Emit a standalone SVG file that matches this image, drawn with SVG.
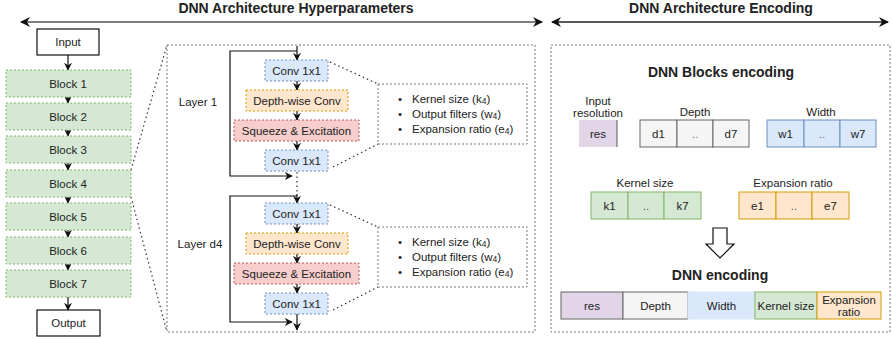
<svg xmlns="http://www.w3.org/2000/svg" width="892" height="339" viewBox="0 0 892 339">
<defs>
<marker id="ah" viewBox="0 0 10 10" refX="9" refY="5" markerWidth="8" markerHeight="8" markerUnits="userSpaceOnUse" orient="auto-start-reverse">
<path d="M0,0 L10,5 L0,10 L3,5 z" fill="#111"/>
</marker>
<marker id="ahb" viewBox="0 0 10 10" refX="9" refY="5" markerWidth="10" markerHeight="10" markerUnits="userSpaceOnUse" orient="auto-start-reverse">
<path d="M0,0 L10,5 L0,10 L3,5 z" fill="#111"/>
</marker>
</defs>
<style>
text{font-family:"Liberation Sans",Arial,sans-serif;font-size:11.5px;fill:#222;text-anchor:middle;dominant-baseline:central}
.title{font-weight:bold;font-size:14px}
.lt{text-anchor:start}
.blk{fill:#d5e8d4;stroke:#82b366;stroke-dasharray:2,2;stroke-width:1}
.conv{fill:#dae8fc;stroke:#6c8ebf;stroke-dasharray:2,2;stroke-width:1}
.dw{fill:#ffe6cc;stroke:#d79b00;stroke-dasharray:2,2;stroke-width:1}
.se{fill:#f8cecc;stroke:#b85450;stroke-dasharray:2,2;stroke-width:1}
.io{fill:#fff;stroke:#111;stroke-width:1.2}
.panel{fill:none;stroke:#777;stroke-dasharray:2,2;stroke-width:1}
.dot{fill:none;stroke:#333;stroke-dasharray:1.5,3;stroke-width:1.2}
.ln{fill:none;stroke:#111;stroke-width:1.2}
.arr{fill:none;stroke:#111;stroke-width:1.2;marker-end:url(#ah)}
.hdr{fill:none;stroke:#555;stroke-width:1.6;marker-start:url(#ahb);marker-end:url(#ahb)}
.gr{fill:#f5f5f5;stroke:#666}
.bl{fill:#dae8fc;stroke:#6c8ebf}
.gn{fill:#d5e8d4;stroke:#82b366}
.or{fill:#ffe6cc;stroke:#d79b00}
.pu{fill:#e1d5e7;stroke:none}
.sub{font-size:8.5px}
</style>

<g id="headers">
<text class="title" x="296" y="8">DNN Architecture Hyperparameters</text>
<text class="title" x="721" y="8">DNN Architecture Encoding</text>
</g>

<g id="connectors">
<line class="hdr" x1="21" y1="22" x2="542" y2="22"/>
<line class="hdr" x1="552" y1="22" x2="888" y2="22" style="stroke:#222"/>
<!-- left column -->
<line class="arr" x1="68" y1="55" x2="68" y2="70"/>
<line class="arr" x1="68" y1="97" x2="68" y2="103"/>
<line class="arr" x1="68" y1="130" x2="68" y2="136"/>
<line class="arr" x1="68" y1="163" x2="68" y2="170"/>
<line class="arr" x1="68" y1="197" x2="68" y2="203"/>
<line class="arr" x1="68" y1="230" x2="68" y2="237"/>
<line class="arr" x1="68" y1="264" x2="68" y2="270"/>
<line class="arr" x1="68" y1="297" x2="68" y2="310"/>
<!-- zoom lines -->
<line class="dot" x1="131" y1="170" x2="167" y2="45"/>
<line class="dot" x1="131" y1="197" x2="167" y2="332"/>
<!-- layer 1 -->
<line class="arr" x1="297" y1="46" x2="297" y2="60"/>
<polyline class="ln" points="297,51 230,51 230,176 292,176" style="marker-end:url(#ah)"/>
<line class="arr" x1="297" y1="81" x2="297" y2="90"/>
<line class="arr" x1="297" y1="111" x2="297" y2="120"/>
<line class="arr" x1="297" y1="141" x2="297" y2="150"/>
<line class="dot" x1="297" y1="172" x2="297" y2="194"/>
<line class="dot" x1="330" y1="62" x2="378" y2="84"/>
<line class="dot" x1="333" y1="167" x2="378" y2="144"/>
<!-- layer d4 -->
<line class="arr" x1="297" y1="194" x2="297" y2="203"/>
<polyline class="ln" points="297,196 230,196 230,322 292,322" style="marker-end:url(#ah)"/>
<line class="arr" x1="297" y1="224" x2="297" y2="233"/>
<line class="arr" x1="297" y1="254" x2="297" y2="263"/>
<line class="arr" x1="297" y1="284" x2="297" y2="293"/>
<line class="arr" x1="297" y1="314" x2="297" y2="330"/>
<line class="dot" x1="330" y1="205" x2="378" y2="227"/>
<line class="dot" x1="333" y1="310" x2="378" y2="287"/>
</g>

<g id="input"><rect class="io" x="37" y="29" width="62" height="26"/><text x="68" y="42">Input</text></g>
<g id="block1"><rect class="blk" x="6" y="70" width="125" height="27"/><text x="68" y="83.5">Block 1</text></g>
<g id="block2"><rect class="blk" x="6" y="103" width="125" height="27"/><text x="68" y="116.5">Block 2</text></g>
<g id="block3"><rect class="blk" x="6" y="136" width="125" height="27"/><text x="68" y="149.5">Block 3</text></g>
<g id="block4"><rect class="blk" x="6" y="170" width="125" height="27"/><text x="68" y="183.5">Block 4</text></g>
<g id="block5"><rect class="blk" x="6" y="203" width="125" height="27"/><text x="68" y="216.5">Block 5</text></g>
<g id="block6"><rect class="blk" x="6" y="237" width="125" height="27"/><text x="68" y="250.5">Block 6</text></g>
<g id="block7"><rect class="blk" x="6" y="270" width="125" height="27"/><text x="68" y="283.5">Block 7</text></g>
<g id="output"><rect class="io" x="37" y="310" width="63" height="26"/><text x="68.5" y="323">Output</text></g>

<g id="hyper-panel"><rect class="panel" x="167" y="45" width="368" height="287"/></g>

<g id="layer1">
<text x="198" y="102">Layer 1</text>
<g id="l1-conv-a"><rect class="conv" x="265" y="60" width="63" height="21"/><text x="296.5" y="70.5">Conv 1x1</text></g>
<g id="l1-dw"><rect class="dw" x="246" y="90" width="102" height="21"/><text x="297" y="100.5">Depth-wise Conv</text></g>
<g id="l1-se"><rect class="se" x="234" y="120" width="125" height="21"/><text x="296.5" y="130.5">Squeeze &amp; Excitation</text></g>
<g id="l1-conv-b"><rect class="conv" x="265" y="150" width="63" height="21"/><text x="296.5" y="160.5">Conv 1x1</text></g>
<g id="l1-info">
<rect class="panel" x="378" y="84" width="149" height="60"/>
<text x="400" y="99">•</text><text class="lt" x="412" y="99">Kernel size (k<tspan class="sub" dy="2">4</tspan><tspan dy="-2">)</tspan></text>
<text x="400" y="114">•</text><text class="lt" x="412" y="114">Output filters (w<tspan class="sub" dy="2">4</tspan><tspan dy="-2">)</tspan></text>
<text x="400" y="129">•</text><text class="lt" x="412" y="129">Expansion ratio (e<tspan class="sub" dy="2">4</tspan><tspan dy="-2">)</tspan></text>
</g>
</g>

<g id="layerd4">
<text x="200" y="244">Layer d4</text>
<g id="l4-conv-a"><rect class="conv" x="265" y="203" width="63" height="21"/><text x="296.5" y="213.5">Conv 1x1</text></g>
<g id="l4-dw"><rect class="dw" x="246" y="233" width="102" height="21"/><text x="297" y="243.5">Depth-wise Conv</text></g>
<g id="l4-se"><rect class="se" x="234" y="263" width="125" height="21"/><text x="296.5" y="273.5">Squeeze &amp; Excitation</text></g>
<g id="l4-conv-b"><rect class="conv" x="265" y="293" width="63" height="21"/><text x="296.5" y="303.5">Conv 1x1</text></g>
<g id="l4-info">
<rect class="panel" x="378" y="227" width="149" height="60"/>
<text x="400" y="242">•</text><text class="lt" x="412" y="242">Kernel size (k<tspan class="sub" dy="2">4</tspan><tspan dy="-2">)</tspan></text>
<text x="400" y="257">•</text><text class="lt" x="412" y="257">Output filters (w<tspan class="sub" dy="2">4</tspan><tspan dy="-2">)</tspan></text>
<text x="400" y="272">•</text><text class="lt" x="412" y="272">Expansion ratio (e<tspan class="sub" dy="2">4</tspan><tspan dy="-2">)</tspan></text>
</g>
</g>

<g id="encoding-panel">
<rect class="panel" x="551" y="45" width="339" height="287"/>
<text class="title" x="721" y="72">DNN Blocks encoding</text>
</g>

<g id="enc-res">
<text x="598" y="101">Input</text><text x="598" y="113">resolution</text>
<rect class="pu" x="579" y="120" width="38" height="27"/>
<line x1="617" y1="120" x2="617" y2="147" stroke="#555" stroke-width="1"/>
<text x="598" y="133.5">res</text>
</g>
<g id="enc-depth">
<text x="695" y="112">Depth</text>
<rect class="gr" x="640" y="120" width="37" height="27"/><text x="658.5" y="133.5">d1</text>
<rect class="gr" x="677" y="120" width="36" height="27"/><text x="695" y="133.5" style="fill:#777">..</text>
<rect class="gr" x="713" y="120" width="36" height="27"/><text x="731" y="133.5">d7</text>
</g>
<g id="enc-width">
<text x="821" y="112">Width</text>
<rect class="bl" x="767" y="120" width="37" height="27"/><text x="785.5" y="133.5">w1</text>
<rect class="bl" x="804" y="120" width="36" height="27"/><text x="822" y="133.5" style="fill:#777">..</text>
<rect class="bl" x="840" y="120" width="36" height="27"/><text x="858" y="133.5">w7</text>
</g>
<g id="enc-kernel">
<text x="645" y="183">Kernel size</text>
<rect class="gn" x="591" y="192" width="37" height="27"/><text x="609.5" y="205.5">k1</text>
<rect class="gn" x="628" y="192" width="36" height="27"/><text x="646" y="205.5" style="fill:#555">..</text>
<rect class="gn" x="664" y="192" width="37" height="27"/><text x="682.5" y="205.5">k7</text>
</g>
<g id="enc-exp">
<text x="793" y="183">Expansion ratio</text>
<rect class="or" x="739" y="192" width="37" height="27"/><text x="757.5" y="205.5">e1</text>
<rect class="or" x="776" y="192" width="36" height="27"/><text x="794" y="205.5" style="fill:#555">..</text>
<rect class="or" x="812" y="192" width="37" height="27"/><text x="830.5" y="205.5">e7</text>
</g>
<g id="big-arrow">
<path d="M713,228 L727,228 L727,244 L734,244 L720,258 L706,244 L713,244 Z" fill="#fff" stroke="#111" stroke-width="1.2"/>
</g>
<g id="dnn-encoding">
<text class="title" x="720" y="275">DNN encoding</text>
<rect x="561" y="292" width="62" height="27" fill="#e1d5e7" stroke="#666"/><text x="592" y="305.5">res</text>
<rect x="623" y="292" width="65" height="27" fill="#f5f5f5" stroke="#666"/><text x="655.5" y="305.5">Depth</text>
<rect x="688" y="292" width="67" height="27" fill="#dae8fc" stroke="#dae8fc"/><text x="721.5" y="305.5">Width</text>
<rect x="755" y="292" width="62" height="27" fill="#d5e8d4" stroke="#82b366"/><text x="786" y="305.5">Kernel size</text>
<rect x="817" y="292" width="64" height="27" fill="#ffe6cc" stroke="#d79b00"/><text x="849" y="299.5">Expansion</text><text x="849" y="312">ratio</text>
</g>
</svg>
